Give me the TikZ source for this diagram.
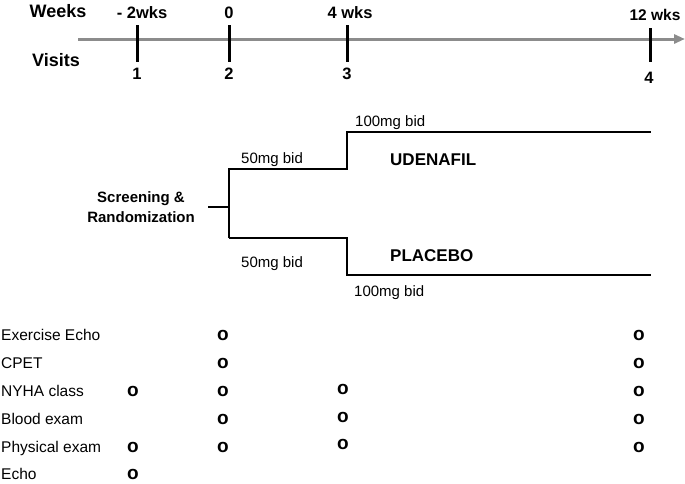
\documentclass[tikz,border=0pt]{standalone}
\usepackage{fontspec}
\setmainfont{Liberation Sans}
\usetikzlibrary{arrows.meta}
\definecolor{axisgray}{RGB}{140,140,140}
\begin{document}
\begin{tikzpicture}[x=1pt,y=-1pt,
  axlabel/.style={font=\bfseries\fontsize{18}{20}\selectfont, inner sep=0, anchor=base},
  wklabel/.style={font=\bfseries\fontsize{16.5}{18}\selectfont, inner sep=0, anchor=base},
  dose/.style={font=\fontsize{15}{18}\selectfont, inner sep=0, anchor=base west},
  arm/.style={font=\bfseries\fontsize{17}{20}\selectfont, inner sep=0, anchor=base west},
  scrtext/.style={font=\bfseries\fontsize{15}{18}\selectfont, inner sep=0, anchor=base},
  rowlabel/.style={font=\fontsize{15.5}{18}\selectfont, inner sep=0, anchor=base west},
  visitmark/.style={font=\bfseries\fontsize{19}{20}\selectfont, inner sep=0, anchor=base},
  tickline/.style={line width=3pt, black},
  treeline/.style={line width=2.5pt, black, line join=miter}
]
\useasboundingbox (0,0) rectangle (685,483);

% axis
\coordinate (axL) at (78,39);
\coordinate (axR) at (685,39);
\draw[axisgray, line width=3pt, -{Triangle[length=11pt,width=9pt]}] (axL) -- (axR);

% ticks
\coordinate (t1a) at (137,25); \coordinate (t1b) at (137,62);
\coordinate (t2a) at (229,25); \coordinate (t2b) at (229,62);
\coordinate (t3a) at (347,25); \coordinate (t3b) at (347,62);
\coordinate (t4a) at (650,28); \coordinate (t4b) at (650,62);
\draw[tickline] (t1a) -- (t1b);
\draw[tickline] (t2a) -- (t2b);
\draw[tickline] (t3a) -- (t3b);
\draw[tickline] (t4a) -- (t4b);

% axis labels
\node[axlabel] (weeks) at (58,17.5) {Weeks};
\node[axlabel] (visits) at (56,66.5) {Visits};
\node[wklabel] (w1) at (142,18) {- 2wks};
\node[wklabel] (w2) at (229,18) {0};
\node[wklabel] (w3) at (350,18) {4 wks};
\node[wklabel, font=\bfseries\fontsize{15.5}{18}\selectfont] (w4) at (655,20.5) {12 wks};
\node[wklabel] (v1) at (137,79) {1};
\node[wklabel] (v2) at (229,79) {2};
\node[wklabel] (v3) at (347,79) {3};
\node[wklabel] (v4) at (649,83.5) {4};

% tree
\node[scrtext] (scr1) at (141,202.5) {Screening \&};
\node[scrtext] (scr2) at (141,222.5) {Randomization};
\coordinate (stubL) at (208,207);
\coordinate (junc) at (229,207);
\coordinate (upA) at (229,169);
\coordinate (upB) at (347,169);
\coordinate (upC) at (347,132);
\coordinate (upD) at (651,132);
\coordinate (loA) at (229,238);
\coordinate (loB) at (347,238);
\coordinate (loC) at (347,275);
\coordinate (loD) at (651,275);
\draw[treeline] (stubL) -- (junc);
\draw[treeline] (loA) -- (upA) -- (upB) -- (upC) -- (upD);
\draw[treeline] (loA) -- (loB) -- (loC) -- (loD);

\node[dose] (d1) at (355,126.5) {100mg bid};
\node[dose] (d2) at (241,163) {50mg bid};
\node[dose] (d3) at (241,267.5) {50mg bid};
\node[dose] (d4) at (354,296) {100mg bid};
\node[arm] (ud) at (390,165) {UDENAFIL};
\node[arm] (pl) at (390,261) {PLACEBO};

% table
\node[rowlabel] (r1) at (1,340.5) {Exercise Echo};
\node[rowlabel] (r2) at (1,368.5) {CPET};
\node[rowlabel] (r3) at (1,396.5) {NYHA class};
\node[rowlabel] (r4) at (1,424.5) {Blood exam};
\node[rowlabel] (r5) at (1,452.5) {Physical exam};
\node[rowlabel] (r6) at (1,479.5) {Echo};

% marks
\node[visitmark] (m12) at (223,340) {o};
\node[visitmark] (m14) at (639,340) {o};
\node[visitmark] (m22) at (223,368) {o};
\node[visitmark] (m24) at (639,368) {o};
\node[visitmark] (m31) at (133,396) {o};
\node[visitmark] (m32) at (223,396) {o};
\node[visitmark] (m33) at (343,394) {o};
\node[visitmark] (m34) at (639,396) {o};
\node[visitmark] (m42) at (223,424) {o};
\node[visitmark] (m43) at (343,422) {o};
\node[visitmark] (m44) at (639,424) {o};
\node[visitmark] (m51) at (133,452) {o};
\node[visitmark] (m52) at (223,452) {o};
\node[visitmark] (m53) at (343,449) {o};
\node[visitmark] (m54) at (639,452) {o};
\node[visitmark] (m61) at (133,479) {o};
\end{tikzpicture}
\end{document}
